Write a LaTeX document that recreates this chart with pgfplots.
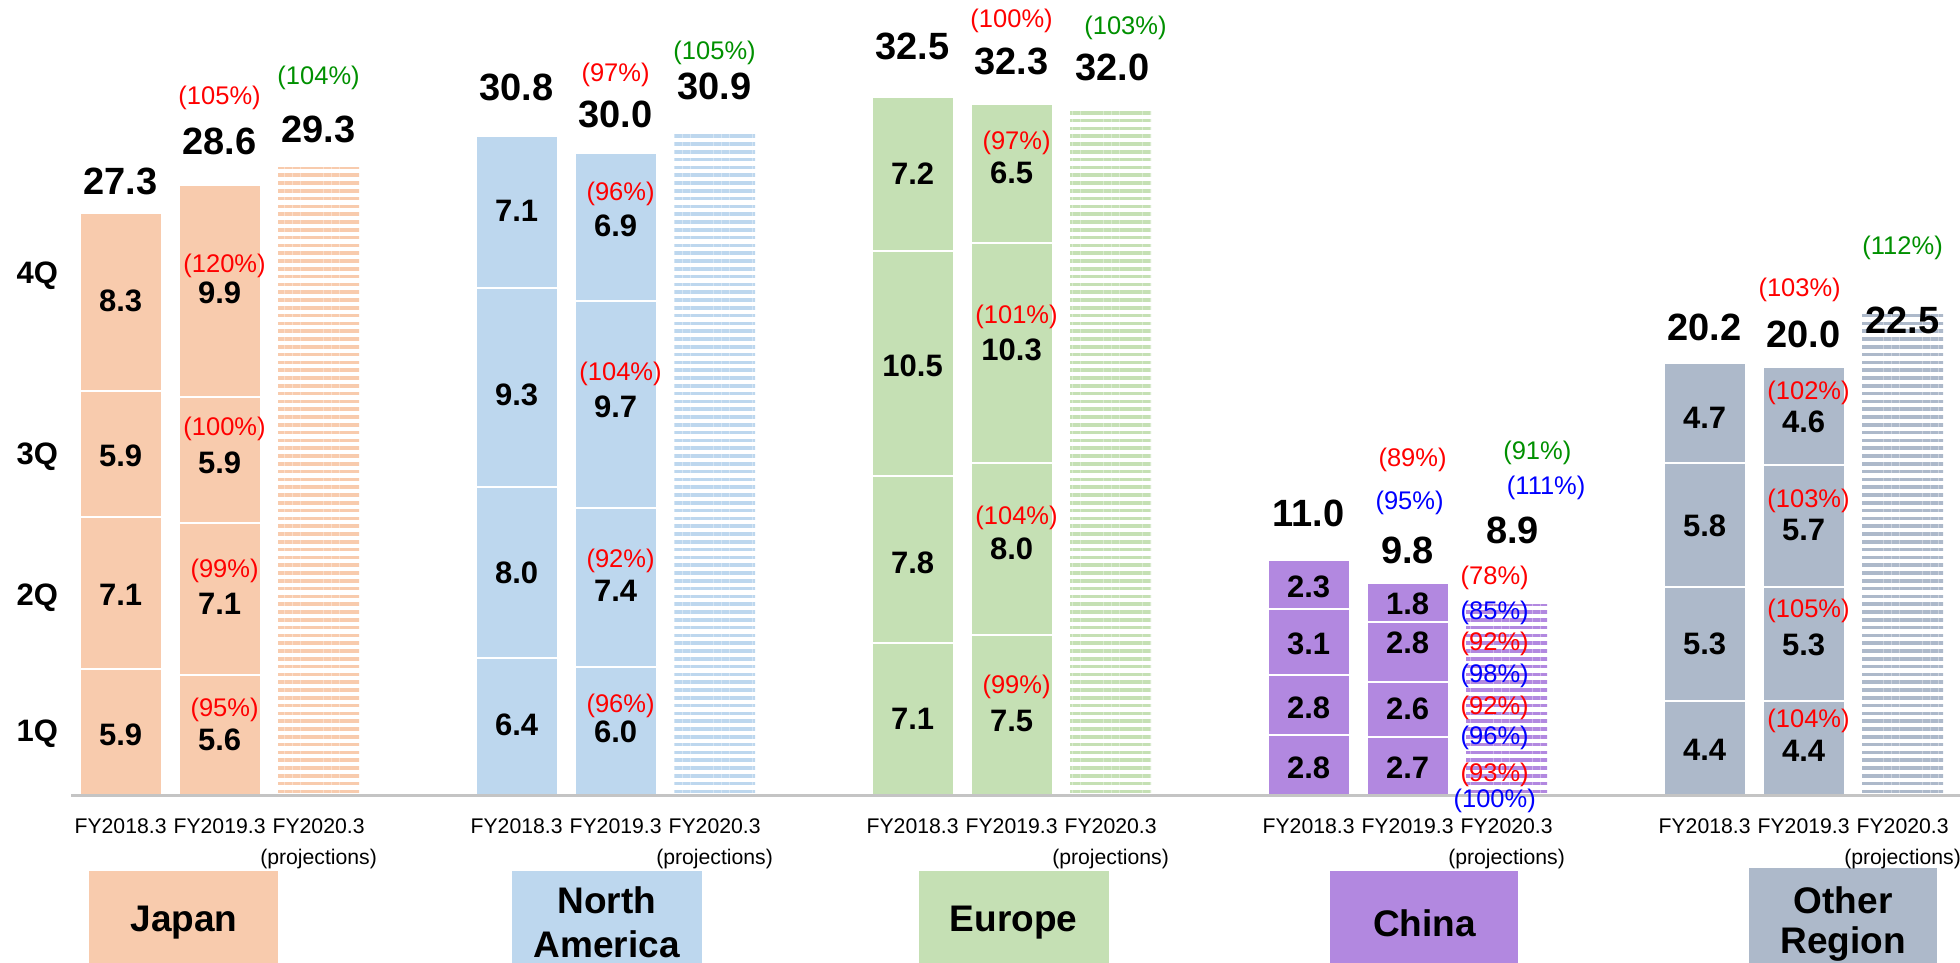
\documentclass[border=0pt]{standalone}
\usepackage{pgfplots}
\pgfplotsset{compat=1.18}
\usepackage{fontspec}
\setmainfont{Liberation Sans}
\usetikzlibrary{patterns.meta}
\definecolor{cjp}{HTML}{F8CBAD}
\definecolor{cna}{HTML}{BDD7EE}
\definecolor{ceu}{HTML}{C5E0B4}
\definecolor{ccn}{HTML}{B288E0}
\definecolor{cot}{HTML}{ADB9CA}
\definecolor{pgreen}{HTML}{009000}
\definecolor{pblue}{HTML}{0000FF}
\definecolor{pred}{HTML}{FF0000}
\definecolor{basegray}{HTML}{C4C4C4}
\pgfplotsset{base/.style={at={(0,0)}, anchor=south west, scale only axis,
  width=980pt, height=481.5pt, xmin=-1.218, xmax=18.58, ymin=-7.85, ymax=37.15,
  hide axis, clip=false},
  seg/.style={draw=white, line width=1pt, fill=#1},
  proj/.style={draw=none, pattern={Lines[angle=0,distance=3.9pt,line width=1.8pt]}, pattern color=#1}}
\tikzset{
  val/.style={font=\fontsize{15.5}{16}\selectfont\bfseries, inner sep=0pt},
  tot/.style={font=\fontsize{19}{20}\selectfont\bfseries, inner sep=0pt},
  qlab/.style={font=\fontsize{15.5}{16}\selectfont\bfseries, inner sep=0pt},
  pr/.style={font=\fontsize{12.75}{14}\selectfont, text=pred, inner sep=0pt},
  pg/.style={font=\fontsize{12.75}{14}\selectfont, text=pgreen, inner sep=0pt},
  pb/.style={font=\fontsize{12.75}{14}\selectfont, text=pblue, inner sep=0pt},
  fy/.style={font=\fontsize{10.6}{12}\selectfont, inner sep=0pt},
  reg/.style={font=\fontsize{18.5}{20}\selectfont\bfseries, inner sep=0pt}}
\newcommand\N[4]{\node[#1] at (axis cs:#2,#3) {#4};}
\begin{document}
\begin{tikzpicture}
% Japan
\begin{axis}[base, ybar stacked, bar width=41pt]
\addplot[seg=cjp] coordinates {(0,5.9) (1,5.6)};
\addplot[seg=cjp] coordinates {(0,7.1) (1,7.1)};
\addplot[seg=cjp] coordinates {(0,5.9) (1,5.9)};
\addplot[seg=cjp] coordinates {(0,8.3) (1,9.9)};
\end{axis}
% North America
\begin{axis}[base, ybar stacked, bar width=41pt]
\addplot[seg=cna] coordinates {(4,6.4) (5,6.0)};
\addplot[seg=cna] coordinates {(4,8.0) (5,7.4)};
\addplot[seg=cna] coordinates {(4,9.3) (5,9.7)};
\addplot[seg=cna] coordinates {(4,7.1) (5,6.9)};
\end{axis}
% Europe
\begin{axis}[base, ybar stacked, bar width=41pt]
\addplot[seg=ceu] coordinates {(8,7.1) (9,7.5)};
\addplot[seg=ceu] coordinates {(8,7.8) (9,8.0)};
\addplot[seg=ceu] coordinates {(8,10.5) (9,10.3)};
\addplot[seg=ceu] coordinates {(8,7.2) (9,6.5)};
\end{axis}
% China
\begin{axis}[base, ybar stacked, bar width=41pt]
\addplot[seg=ccn] coordinates {(12,2.8) (13,2.7)};
\addplot[seg=ccn] coordinates {(12,2.8) (13,2.6)};
\addplot[seg=ccn] coordinates {(12,3.1) (13,2.8)};
\addplot[seg=ccn] coordinates {(12,2.3) (13,1.8)};
\end{axis}
% Other Region
\begin{axis}[base, ybar stacked, bar width=41pt]
\addplot[seg=cot] coordinates {(16,4.4) (17,4.4)};
\addplot[seg=cot] coordinates {(16,5.3) (17,5.3)};
\addplot[seg=cot] coordinates {(16,5.8) (17,5.7)};
\addplot[seg=cot] coordinates {(16,4.7) (17,4.6)};
\end{axis}
% projections
\begin{axis}[base, ybar, bar width=40.5pt, bar shift=0pt]
\addplot[proj=cjp] coordinates {(2,29.3)};
\addplot[proj=cna] coordinates {(6,30.9)};
\addplot[proj=ceu] coordinates {(10,32.0)};
\addplot[proj=ccn] coordinates {(14,8.9)};
\addplot[proj=cot] coordinates {(18,22.5)};
\end{axis}
% labels
\begin{axis}[base]
\draw[basegray, line width=1.5pt] (axis cs:-0.5,0) -- (axis cs:18.58,0);
% region boxes
\fill[cjp] (axis cs:-0.32,-3.55) rectangle (axis cs:1.59,-7.85);
\fill[cna] (axis cs:3.95,-3.55) rectangle (axis cs:5.87,-7.85);
\fill[ceu] (axis cs:8.06,-3.55) rectangle (axis cs:9.98,-7.85);
\fill[ccn] (axis cs:12.22,-3.55) rectangle (axis cs:14.12,-7.85);
\fill[cot] (axis cs:16.45,-3.41) rectangle (axis cs:18.35,-7.85);
\N{reg}{0.64}{-5.98}{Japan}
\N{reg}{4.91}{-4.91}{North}
\N{reg}{4.91}{-6.96}{America}
\N{reg}{9.02}{-5.98}{Europe}
\N{reg}{13.17}{-5.98}{China}
\N{reg}{17.40}{-4.91}{Other}
\N{reg}{17.40}{-6.96}{Region}
% FY labels
\N{fy}{0}{-1.45}{FY2018.3}\N{fy}{1}{-1.45}{FY2019.3}\N{fy}{2}{-1.45}{FY2020.3}\N{fy}{2}{-2.99}{(projections)}
\N{fy}{4}{-1.45}{FY2018.3}\N{fy}{5}{-1.45}{FY2019.3}\N{fy}{6}{-1.45}{FY2020.3}\N{fy}{6}{-2.99}{(projections)}
\N{fy}{8}{-1.45}{FY2018.3}\N{fy}{9}{-1.45}{FY2019.3}\N{fy}{10}{-1.45}{FY2020.3}\N{fy}{10}{-2.99}{(projections)}
\N{fy}{12}{-1.45}{FY2018.3}\N{fy}{13}{-1.45}{FY2019.3}\N{fy}{14}{-1.45}{FY2020.3}\N{fy}{14}{-2.99}{(projections)}
\N{fy}{16}{-1.45}{FY2018.3}\N{fy}{17}{-1.45}{FY2019.3}\N{fy}{18}{-1.45}{FY2020.3}\N{fy}{18}{-2.99}{(projections)}
% Q labels
\N{qlab}{-0.84}{24.25}{4Q}
\N{qlab}{-0.84}{15.8}{3Q}
\N{qlab}{-0.84}{9.23}{2Q}
\N{qlab}{-0.84}{2.86}{1Q}
% Japan
\N{val}{0}{2.8}{5.9}\N{val}{0}{9.36}{7.1}\N{val}{0}{15.84}{5.9}\N{val}{0}{23.1}{8.3}
\N{tot}{0}{28.65}{27.3}
\N{val}{1}{2.6}{5.6}\N{val}{1}{8.95}{7.1}\N{val}{1}{15.5}{5.9}\N{val}{1}{23.45}{9.9}
\N{pr}{1.05}{4.0}{(95\%)}\N{pr}{1.05}{10.45}{(99\%)}\N{pr}{1.05}{17.1}{(100\%)}\N{pr}{1.05}{24.73}{(120\%)}
\N{tot}{1}{30.55}{28.6}\N{pr}{1}{32.59}{(105\%)}
\N{tot}{2}{31.12}{29.3}\N{pg}{2}{33.53}{(104\%)}
% North America
\N{val}{4}{3.27}{6.4}\N{val}{4}{10.40}{8.0}\N{val}{4}{18.69}{9.3}\N{val}{4}{27.28}{7.1}
\N{tot}{4}{33.06}{30.8}
\N{val}{5}{2.95}{6.0}\N{val}{5}{9.55}{7.4}\N{val}{5}{18.15}{9.7}\N{val}{5}{26.6}{6.9}
\N{pr}{5.05}{4.15}{(96\%)}\N{pr}{5.05}{10.96}{(92\%)}\N{pr}{5.05}{19.67}{(104\%)}\N{pr}{5.05}{28.08}{(96\%)}
\N{tot}{5}{31.78}{30.0}\N{pr}{5}{33.64}{(97\%)}
\N{tot}{6}{33.12}{30.9}\N{pg}{6}{34.70}{(105\%)}
% Europe
\N{val}{8}{3.56}{7.1}\N{val}{8}{10.86}{7.8}\N{val}{8}{20.04}{10.5}\N{val}{8}{29.03}{7.2}
\N{tot}{8}{34.99}{32.5}
\N{val}{9}{3.45}{7.5}\N{val}{9}{11.5}{8.0}\N{val}{9}{20.78}{10.3}\N{val}{9}{29.08}{6.5}
\N{pr}{9.05}{5.04}{(99\%)}\N{pr}{9.05}{12.93}{(104\%)}\N{pr}{9.05}{22.33}{(101\%)}\N{pr}{9.05}{30.45}{(97\%)}
\N{tot}{9}{34.29}{32.3}\N{pr}{9}{36.16}{(100\%)}
\N{tot}{10.02}{33.99}{32.0}\N{pg}{10.15}{35.86}{(103\%)}
% China
\N{val}{12}{1.29}{2.8}\N{val}{12}{4.09}{2.8}\N{val}{12}{7.07}{3.1}\N{val}{12}{9.75}{2.3}
\N{tot}{12}{13.14}{11.0}
\N{val}{13}{1.29}{2.7}\N{val}{13}{4.03}{2.6}\N{val}{13}{7.13}{2.8}\N{val}{13}{8.94}{1.8}
\N{tot}{13}{11.45}{9.8}\N{pb}{13.02}{13.67}{(95\%)}\N{pr}{13.05}{15.65}{(89\%)}
\N{pr}{13.88}{10.16}{(78\%)}\N{pb}{13.88}{8.53}{(85\%)}
\N{pr}{13.88}{7.07}{(92\%)}\N{pb}{13.88}{5.55}{(98\%)}
\N{pr}{13.88}{4.09}{(92\%)}\N{pb}{13.88}{2.69}{(96\%)}
\N{pr}{13.88}{0.93}{(93\%)}\N{pb}{13.88}{-0.29}{(100\%)}
\N{tot}{14.06}{12.38}{8.9}\N{pb}{14.40}{14.37}{(111\%)}\N{pg}{14.31}{16.00}{(91\%)}
% Other Region
\N{val}{16}{2.10}{4.4}\N{val}{16}{7.07}{5.3}\N{val}{16}{12.56}{5.8}\N{val}{16}{17.64}{4.7}
\N{tot}{16}{21.85}{20.2}
\N{val}{17}{2.05}{4.4}\N{val}{17}{7.0}{5.3}\N{val}{17}{12.38}{5.7}\N{val}{17}{17.45}{4.6}
\N{pr}{17.05}{3.47}{(104\%)}\N{pr}{17.05}{8.61}{(105\%)}\N{pr}{17.05}{13.75}{(103\%)}\N{pr}{17.05}{18.77}{(102\%)}
\N{tot}{17}{21.50}{20.0}\N{pr}{16.96}{23.60}{(103\%)}
\N{tot}{18}{22.2}{22.5}\N{pg}{18}{25.58}{(112\%)}
\end{axis}
\pgfresetboundingbox
\useasboundingbox (0,0) rectangle (980pt,481.5pt);
\end{tikzpicture}
\end{document}
